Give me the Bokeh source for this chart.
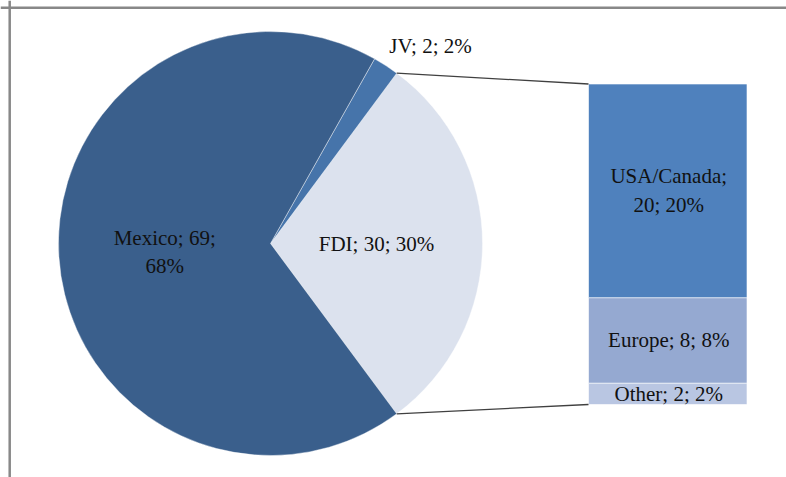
import numpy as np
from bokeh.plotting import figure
from bokeh.models import Range1d, Span, ColumnDataSource
from bokeh.embed import file_html
from bokeh.resources import INLINE
from bokeh.core.properties import value

# ---- data ----
pie_labels = ["FDI", "JV", "Mexico"]
pie_values = [30, 2, 69]
pie_pcts = [30, 2, 68]
pie_colors = ["#DCE2EE", "#4674AA", "#3A5F8C"]
pie_seps = [(" ", " "), (" ", " "), (" ", "\n")]

bar_labels = ["Other", "Europe", "USA/Canada"]
bar_values = [2, 8, 20]
bar_pcts = [2, 8, 20]
bar_colors = ["#B9C6E2", "#95A9D1", "#4F81BD"]
bar_seps = [(" ", " "), (" ", " "), ("\n", " ")]

# ---- layout (page pixel coordinates; y measured up from bottom) ----
W, H = 786, 477
CX, CY, R = 270, H - 243, 212
BAR_LEFT, BAR_RIGHT = 588, 746.5
BAR_BOTTOM, BAR_TOP = H - 404, H - 83.5
FONT = value("Liberation Serif")
FS = "21px"

p = figure(width=W, height=H, x_range=Range1d(0, W), y_range=Range1d(0, H),
           output_backend="svg", toolbar_location=None, min_border=0,
           x_axis_location=None, y_axis_location=None, outline_line_color=None)
p.grid.visible = False
p.background_fill_color = "white"

# frame (top and left edges visible)
p.add_layout(Span(location=9.2, dimension="height", line_color="#888888", line_width=2.5))
p.add_layout(Span(location=H - 7.2, dimension="width", line_color="#888888", line_width=2.5))


def fmt(n, v, pc, s):
    return f"{n};{s[0]}{v};{s[1]}{pc}%"


# ---- pie ----
total = sum(pie_values)
angles = np.array(pie_values) / total * 2 * np.pi
start0 = -angles[0] / 2
ends = start0 + np.cumsum(angles)
starts = ends - angles
pie_src = ColumnDataSource(dict(start=starts, end=ends, color=pie_colors))
p.wedge(x=CX, y=CY, radius=R, start_angle="start", end_angle="end",
        fill_color="color", line_color="white", line_width=0.8, line_alpha=0.5,
        source=pie_src)

# pie labels
mids = (starts + ends) / 2
pie_text = [fmt(n, v, pc, s) for n, v, pc, s in zip(pie_labels, pie_values, pie_pcts, pie_seps)]
lx = list(CX + 0.5 * R * np.cos(mids))
ly = list(CY + 0.5 * R * np.sin(mids))
# JV label sits outside the pie
lx[1], ly[1] = 430, H - 45
ly[2] -= 2
p.text(x=lx, y=ly, text=pie_text, text_font=FONT, text_font_size=FS,
       text_align="center", text_baseline="middle", text_color="#111111")

# ---- bar of FDI ----
bar_total = sum(bar_values)
unit = (BAR_TOP - BAR_BOTTOM) / bar_total
p.extra_y_ranges = {"bar": Range1d((0 - BAR_BOTTOM) / unit, (H - BAR_BOTTOM) / unit)}
tops = np.cumsum(bar_values)
bottoms = tops - np.array(bar_values)
bar_src = ColumnDataSource(dict(bottom=bottoms, top=tops, color=bar_colors,
                                mid=(bottoms + tops) / 2,
                                text=[fmt(n, v, pc, s) for n, v, pc, s in
                                      zip(bar_labels, bar_values, bar_pcts, bar_seps)]))
bx = (BAR_LEFT + BAR_RIGHT) / 2
p.vbar(x=bx, width=BAR_RIGHT - BAR_LEFT, bottom="bottom", top="top", fill_color="color",
       line_color="white", line_width=1, line_alpha=0.6, y_range_name="bar", source=bar_src)
p.text(x=bx + 1, y="mid", text="text", text_font=FONT, text_font_size=FS,
       text_align="center", text_baseline="middle", text_color="#111111",
       y_range_name="bar", source=bar_src)

# ---- connector lines ----
a_top, a_bot = ends[0], starts[0]
p.segment(x0=[CX + R * np.cos(a_top), CX + R * np.cos(a_bot)],
          y0=[CY + R * np.sin(a_top), CY + R * np.sin(a_bot)],
          x1=[BAR_LEFT, BAR_LEFT], y1=[BAR_TOP, BAR_BOTTOM],
          line_color="#404040", line_width=1.3)

open("out.html", "w").write(file_html(p, INLINE))
